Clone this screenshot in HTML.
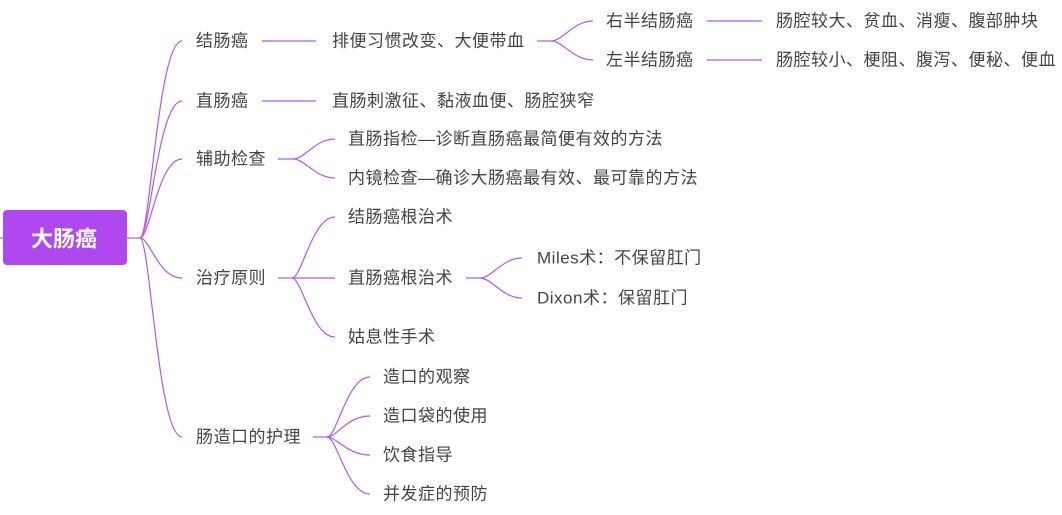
<!DOCTYPE html>
<html><head><meta charset="utf-8"><style>
html,body{margin:0;padding:0;background:#fff;}
svg{display:block}
text{font-family:"Liberation Sans","Noto Sans CJK SC",sans-serif;font-size:17px;fill:#444;dominant-baseline:central;letter-spacing:0.5px;}
path,line{stroke:#b15ae8;stroke-width:1.2;fill:none}
</style></head><body>
<svg width="1062" height="515" viewBox="0 0 1062 515">
<rect x="3" y="210" width="124" height="55" rx="4" fill="#b048f2"/>
<text x="64" y="239" text-anchor="middle" style="fill:#fff;font-size:22px;font-weight:bold;letter-spacing:0">大肠癌</text>
<line x1="0" y1="238" x2="3" y2="238"/>
<line x1="127" y1="238" x2="140" y2="238"/>
<path d="M140 238 C150 238 158 41 182 41"/>
<path d="M140 238 C150 238 158 101 182 101"/>
<path d="M140 238 C150 238 158 159 182 159"/>
<path d="M140 238 C150 238 158 278 182 278"/>
<path d="M140 238 C150 238 158 437 182 437"/>
<text x="196" y="41">结肠癌</text>
<text x="196" y="101">直肠癌</text>
<text x="196" y="159">辅助检查</text>
<text x="196" y="278">治疗原则</text>
<text x="196" y="437">肠造口的护理</text>
<line x1="262" y1="41" x2="316" y2="41"/>
<line x1="262" y1="101" x2="316" y2="101"/>
<text x="332" y="41">排便习惯改变、大便带血</text>
<text x="332" y="101">直肠刺激征、黏液血便、肠腔狭窄</text>
<line x1="278" y1="159" x2="293" y2="159"/>
<path d="M293 159 C305 159 315 139 335 139"/>
<path d="M293 159 C305 159 315 178 335 178"/>
<text x="348" y="139">直肠指检—诊断直肠癌最简便有效的方法</text>
<text x="348" y="178">内镜检查—确诊大肠癌最有效、最可靠的方法</text>
<line x1="278" y1="278" x2="292" y2="278"/>
<path d="M292 278 C302 278 312 217 335 217"/>
<line x1="292" y1="278" x2="335" y2="278"/>
<path d="M292 278 C302 278 312 337 335 337"/>
<text x="348" y="217">结肠癌根治术</text>
<text x="348" y="278">直肠癌根治术</text>
<text x="348" y="337">姑息性手术</text>
<line x1="466" y1="278" x2="480" y2="278"/>
<path d="M480 278 C492 278 502 258 522 258"/>
<path d="M480 278 C492 278 502 298 522 298"/>
<text x="537" y="258">Miles术：不保留肛门</text>
<text x="537" y="298">Dixon术：保留肛门</text>
<line x1="313" y1="437" x2="327" y2="437"/>
<path d="M327 437 C337 437 347 377 370 377"/>
<path d="M327 437 C337 437 347 416 370 416"/>
<path d="M327 437 C337 437 347 455 370 455"/>
<path d="M327 437 C337 437 347 494 370 494"/>
<text x="383" y="377">造口的观察</text>
<text x="383" y="416">造口袋的使用</text>
<text x="383" y="455">饮食指导</text>
<text x="383" y="494">并发症的预防</text>
<line x1="537" y1="41" x2="551" y2="41"/>
<path d="M551 41 C563 41 573 21 593 21"/>
<path d="M551 41 C563 41 573 60 593 60"/>
<text x="606" y="21">右半结肠癌</text>
<text x="606" y="60">左半结肠癌</text>
<line x1="707" y1="21" x2="762" y2="21"/>
<line x1="707" y1="60" x2="762" y2="60"/>
<text x="776" y="21">肠腔较大、贫血、消瘦、腹部肿块</text>
<text x="776" y="60">肠腔较小、梗阻、腹泻、便秘、便血</text>
</svg>
</body></html>
